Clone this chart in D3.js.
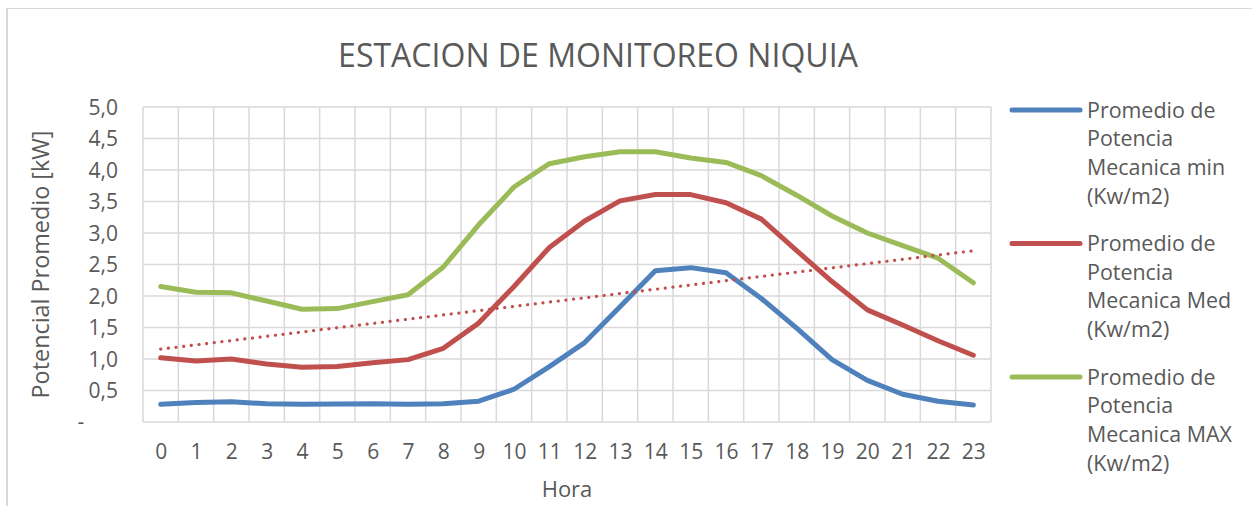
<!DOCTYPE html>
<html>
<head>
<meta charset="utf-8">
<script src="https://cdn.jsdelivr.net/npm/d3@7"></script>
<style>
  html, body { margin: 0; padding: 0; background: #fff; }
  svg { display: block; }
  text { font-family: "Open Sans", "Liberation Sans", sans-serif; fill: #595959; }
</style>
</head>
<body>
<svg id="chart" width="1252" height="506"></svg>
<script>
// ---- data ----
const hours = [0,1,2,3,4,5,6,7,8,9,10,11,12,13,14,15,16,17,18,19,20,21,22,23];
const potMin = [0.28,0.31,0.32,0.29,0.28,0.285,0.29,0.28,0.29,0.33,0.52,0.88,1.26,1.83,2.40,2.45,2.37,1.96,1.49,0.99,0.66,0.44,0.33,0.27];
const potMed = [1.02,0.97,1.00,0.92,0.87,0.88,0.94,0.99,1.17,1.57,2.15,2.77,3.19,3.51,3.61,3.61,3.48,3.22,2.72,2.23,1.78,1.54,1.29,1.06];
const potMax = [2.15,2.06,2.05,1.92,1.79,1.80,1.91,2.02,2.46,3.13,3.73,4.10,4.21,4.29,4.29,4.19,4.12,3.91,3.60,3.27,3.00,2.80,2.60,2.21];
const yTicks = [0,0.5,1,1.5,2,2.5,3,3.5,4,4.5,5];
const seriesNames = [
  ["Promedio de","Potencia","Mecanica min","(Kw/m2)"],
  ["Promedio de","Potencia","Mecanica Med","(Kw/m2)"],
  ["Promedio de","Potencia","Mecanica MAX","(Kw/m2)"]
];
const titleText = "ESTACION DE MONITOREO NIQUIA";
const yTitle = "Potencial Promedio [kW]";
const xTitle = "Hora";

// ---- layout ----
const svg = d3.select("#chart");
const W = 1252, H = 506;
const plot = {l: 143, r: 991, t: 107, b: 422};
const colors = ["#4f81bd", "#c0504d", "#9bbb59"];
const series = [potMin, potMed, potMax];

// frame
svg.append("line").attr("x1", 6).attr("x2", W).attr("y1", 8.5).attr("y2", 8.5)
  .attr("stroke", "#d9d9d9").attr("stroke-width", 1.2);
svg.append("line").attr("x1", 7).attr("x2", 7).attr("y1", 8).attr("y2", H)
  .attr("stroke", "#d9d9d9").attr("stroke-width", 2);

const xBand = d3.scaleBand().domain(hours).range([plot.l, plot.r]).padding(0);
const x = h => xBand(h) + xBand.bandwidth() / 2;
const y = d3.scaleLinear().domain([0, 5]).range([plot.b, plot.t]);

// grid
const grid = svg.append("g").attr("stroke", "#d9d9d9").attr("stroke-width", 1.5);
yTicks.forEach(v => {
  grid.append("line").attr("x1", plot.l).attr("x2", plot.r)
    .attr("y1", y(v)).attr("y2", y(v));
});
const bounds = hours.map(h => xBand(h)).concat([plot.r]);
bounds.forEach(bx => {
  grid.append("line").attr("x1", bx).attr("x2", bx)
    .attr("y1", plot.t).attr("y2", plot.b);
});

// fit helper
function fitFont(sel, targetW) {
  const fs = parseFloat(sel.attr("font-size"));
  const w = sel.node().getComputedTextLength();
  const nf = fs * targetW / w;
  sel.attr("font-size", nf);
  return nf;
}

// y axis
const fmt = d3.format(".1f");
const yAxis = d3.axisLeft(y).tickValues(yTicks).tickSize(0).tickPadding(0)
  .tickFormat(v => v === 0 ? "" : fmt(v).replace(".", ","));
const gy = svg.append("g").attr("transform", `translate(${118},0)`).call(yAxis);
gy.select(".domain").remove();
gy.selectAll("text").attr("font-size", 21).attr("fill", "#595959")
  .attr("font-family", '"Open Sans", sans-serif').attr("dy", "0.35em");
svg.append("text").attr("x", 81).attr("y", y(0)).attr("dy", "0.35em")
  .attr("text-anchor", "middle").attr("font-size", 21).text("-");

// x axis
const xAxis = d3.axisBottom(d3.scalePoint().domain(hours).range([x(0), x(23)]))
  .tickSize(0).tickPadding(0);
const gx = svg.append("g").attr("transform", `translate(0,${452})`).call(xAxis);
gx.select(".domain").remove();
gx.selectAll("text").attr("font-size", 21).attr("fill", "#595959")
  .attr("font-family", '"Open Sans", sans-serif').attr("dy", "0.35em");

// axis titles
const yt = svg.append("text").attr("transform", `translate(49,${(plot.t + plot.b) / 2}) rotate(-90)`)
  .attr("text-anchor", "middle").attr("font-size", 21).text(yTitle);
fitFont(yt, 268);
svg.append("text").attr("x", (plot.l + plot.r) / 2).attr("y", 497)
  .attr("text-anchor", "middle").attr("font-size", 22).text(xTitle);

// title
const t = svg.append("text").attr("x", 598).attr("y", 67)
  .attr("text-anchor", "middle").attr("font-size", 30).text(titleText);
fitFont(t, 520);

// lines
const line = d3.line().x((d, i) => x(hours[i])).y(d => y(d));
series.forEach((s, k) => {
  svg.append("path").datum(s).attr("d", line)
    .attr("fill", "none").attr("stroke", colors[k]).attr("stroke-width", 5)
    .attr("stroke-linejoin", "round").attr("stroke-linecap", "round");
});

// linear trend of the Med series
const n = hours.length;
const mx = d3.mean(hours), my = d3.mean(potMed);
const slope = d3.sum(hours, (h, i) => (h - mx) * (potMed[i] - my)) / d3.sum(hours, h => (h - mx) ** 2);
const icpt = my - slope * mx;
const trend = [hours[0], hours[n - 1]].map(h => [x(h), y(icpt + slope * h)]);
svg.append("path").attr("d", d3.line()(trend))
  .attr("fill", "none").attr("stroke", "#c0504d").attr("stroke-width", 3.2)
  .attr("stroke-linecap", "round").attr("stroke-dasharray", "0.1 7.6");

// legend
const probe = svg.append("text").attr("font-size", 20).text("Mecanica MAX");
const legendFs = fitFont(probe, 145);
probe.remove();
const lg = svg.append("g");
seriesNames.forEach((lines, k) => {
  const cy = 110 + k * 133.5;
  lg.append("line").attr("x1", 1012).attr("x2", 1080).attr("y1", cy).attr("y2", cy)
    .attr("stroke", colors[k]).attr("stroke-width", 5).attr("stroke-linecap", "round");
  lines.forEach((txt, j) => {
    lg.append("text").attr("x", 1087).attr("y", cy + j * 28.7).attr("dy", "0.35em")
      .attr("font-size", legendFs).text(txt);
  });
});
</script>
</body>
</html>
